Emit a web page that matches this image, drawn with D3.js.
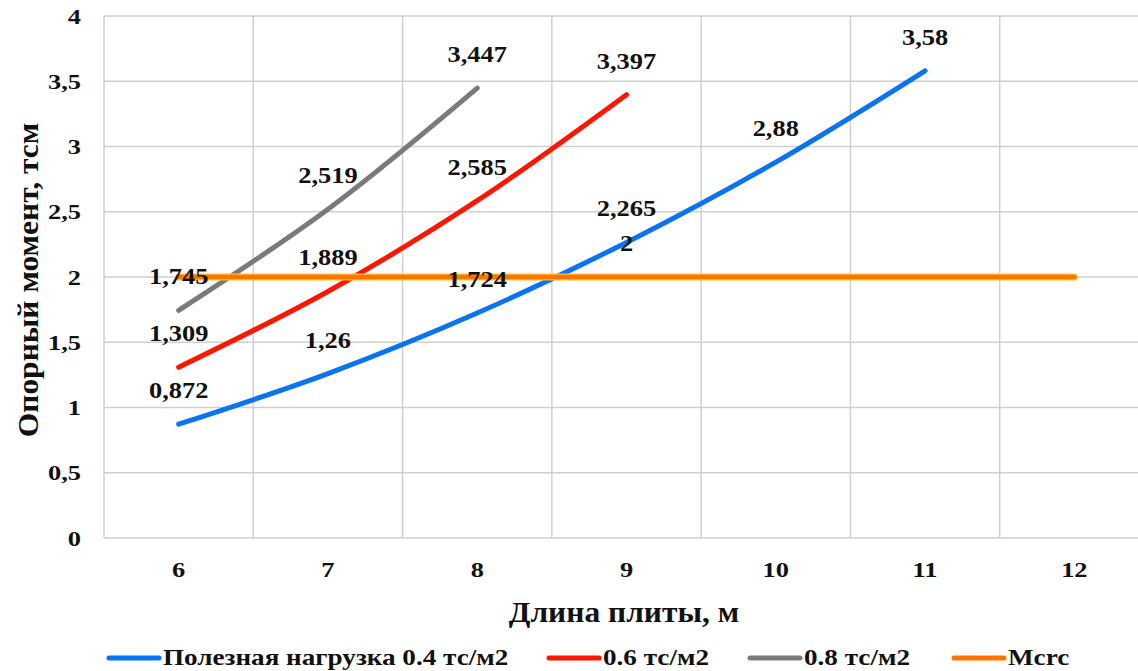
<!DOCTYPE html>
<html>
<head>
<meta charset="utf-8">
<script src="https://cdn.jsdelivr.net/npm/d3@7"></script>
<style>
  html, body { margin: 0; padding: 0; background: #fff; }
  svg { display: block; }
  svg text { font-family: "Liberation Serif", "Times New Roman", serif; font-weight: bold; fill: #111; }
</style>
</head>
<body>
<svg id="chart" width="1138" height="671"></svg>
<script>
// Slab length, m
const lengths = [6, 7, 8, 9, 10, 11, 12];
const yTicks = [0, 0.5, 1, 1.5, 2, 2.5, 3, 3.5, 4];

// Support moment, t·m, per live load
const load04 = [0.872, 1.26, 1.724, 2.265, 2.88, 3.58];
const load06 = [1.309, 1.889, 2.585, 3.397];
const load08 = [1.745, 2.519, 3.447];
const mcrc   = [2, 2, 2, 2, 2, 2, 2];

const seriesNames = ["Полезная нагрузка 0.4 тс/м2", "0.6 тс/м2", "0.8 тс/м2", "Mcrc"];
const seriesColors = ["#0a74f0", "#ff1500", "#7a7a7a", "#ff7400"];

const FONT = '"Liberation Serif", "Times New Roman", serif';
const svg = d3.select("#chart");
const plotL = 104, plotR = 1149, plotT = 16, plotB = 538;

const x = d3.scaleBand().domain(lengths).range([plotL, plotR]).padding(0);
const y = d3.scaleLinear().domain([0, 4]).range([plotB, plotT]);
const cx = d => x(d) + x.bandwidth() / 2;

// Text helper: positioned label with a slight horizontal widening
function label(parent, tx, ty, str, size, sx, anchor, rot) {
  return parent.append("text")
    .attr("transform", `translate(${tx},${ty})${rot ? ` rotate(${rot})` : ""} scale(${sx},1)`)
    .attr("text-anchor", anchor || "start")
    .attr("font-family", FONT).style("font-size", size + "px")
    .text(str);
}

// Grid
const grid = svg.append("g").attr("stroke", "#cfcfcf").attr("stroke-width", 1.5);
grid.selectAll(".h").data(yTicks).join("line")
  .attr("x1", plotL).attr("x2", plotR)
  .attr("y1", d => y(d)).attr("y2", d => y(d));
grid.selectAll(".v").data(lengths.map(d => x(d)).concat([plotR])).join("line")
  .attr("x1", d => d).attr("x2", d => d)
  .attr("y1", plotT).attr("y2", plotB);

// Y axis labels
const yAxis = d3.axisLeft(y).tickValues(yTicks).tickSize(0).tickPadding(0)
  .tickFormat(d => String(d).replace(".", ","));
const gy = svg.append("g").attr("transform", `translate(${81},0)`).call(yAxis)
  .attr("font-family", FONT).attr("font-size", 22);
gy.select(".domain").remove();
gy.selectAll("text").attr("font-weight", "bold").attr("fill", "#111").attr("transform", "scale(1.2,1)");

// X axis labels
const xAxis = d3.axisBottom(x).tickSize(0).tickPadding(0);
const gx = svg.append("g").attr("transform", `translate(0,${561})`).call(xAxis)
  .attr("font-family", FONT).attr("font-size", 22);
gx.select(".domain").remove();
gx.selectAll("text").attr("font-weight", "bold").attr("fill", "#111").attr("transform", "scale(1.2,1)");

// Axis titles
label(svg, 624, 622, "Длина плиты, м", 30, 1.05, "middle");
label(svg, 38, 280, "Опорный момент, тсм", 30, 1.05, "middle", -90);

// Lines
const line = d3.line().x(d => cx(d.x)).y(d => y(d.v)).curve(d3.curveCatmullRom.alpha(0.5));
const toPts = vals => vals.map((v, i) => ({ x: lengths[i], v }));
const allSeries = [load04, load06, load08, mcrc];

allSeries.forEach((vals, i) => {
  if (i === 3) {
    svg.append("path").attr("d", line(toPts(vals))).attr("fill", "none")
      .attr("stroke", "#ffc21a").attr("stroke-width", 7).attr("stroke-linecap", "round");
  }
  svg.append("path").attr("d", line(toPts(vals))).attr("fill", "none")
    .attr("stroke", seriesColors[i]).attr("stroke-width", i === 3 ? 4.5 : 5).attr("stroke-linecap", "round");
});

// Data labels
const fmt = v => String(v).replace(".", ",");
const labels = [];
load04.forEach((v, i) => labels.push({ x: lengths[i], v }));
load06.forEach((v, i) => labels.push({ x: lengths[i], v }));
load08.forEach((v, i) => labels.push({ x: lengths[i], v }));
labels.push({ x: 9, v: mcrc[3] });

const lbl = svg.append("g");
labels.forEach(d => label(lbl, cx(d.x), y(d.v) - 26, fmt(d.v), 23, 1.15, "middle"));

// Legend
const legendItems = [
  { x: 107, name: seriesNames[0], c: seriesColors[0] },
  { x: 547, name: seriesNames[1], c: seriesColors[1] },
  { x: 748, name: seriesNames[2], c: seriesColors[2] },
  { x: 952, name: seriesNames[3], c: seriesColors[3] }
];
const lg = svg.append("g");
legendItems.forEach(it => {
  lg.append("line").attr("x1", it.x + 2).attr("x2", it.x + 52).attr("y1", 658).attr("y2", 658)
    .attr("stroke", it.c).attr("stroke-width", 5).attr("stroke-linecap", "round");
  label(lg, it.x + 56, 665, it.name, 23, 1.18, "start");
});
</script>
</body>
</html>
